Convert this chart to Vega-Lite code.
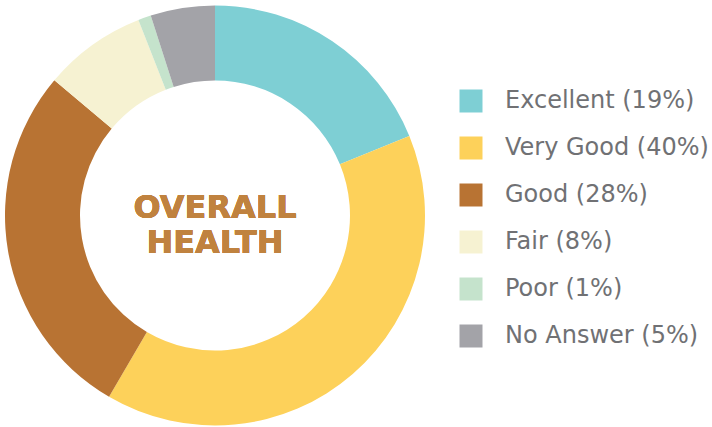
{
  "$schema": "https://vega.github.io/schema/vega-lite/v6.json",
  "width": 430,
  "height": 425,
  "autosize": "none",
  "padding": {"left": 0, "top": 3, "right": 282, "bottom": 0},
  "background": "white",
  "config": {"view": {"stroke": null}},
  "data": {
    "values": [
      {"label": "Excellent (19%)", "share": 19, "rank": 1},
      {"label": "Very Good (40%)", "share": 40, "rank": 2},
      {"label": "Good (28%)", "share": 28, "rank": 3},
      {"label": "Fair (8%)", "share": 8, "rank": 4},
      {"label": "Poor (1%)", "share": 1, "rank": 5},
      {"label": "No Answer (5%)", "share": 5, "rank": 6}
    ]
  },
  "layer": [
    {
      "mark": {"type": "arc", "outerRadius": 210, "innerRadius": 135},
      "encoding": {
        "theta": {"field": "share", "type": "quantitative", "stack": true},
        "order": {"field": "rank", "type": "quantitative", "sort": "ascending"},
        "color": {
          "field": "label",
          "type": "nominal",
          "sort": ["Excellent (19%)", "Very Good (40%)", "Good (28%)", "Fair (8%)", "Poor (1%)", "No Answer (5%)"],
          "scale": {
            "domain": ["Excellent (19%)", "Very Good (40%)", "Good (28%)", "Fair (8%)", "Poor (1%)", "No Answer (5%)"],
            "range": ["#7ecfd4", "#fdd15a", "#b87333", "#f6f2d2", "#c5e3cc", "#a3a3a8"]
          },
          "legend": {
            "title": null,
            "orient": "none",
            "legendX": 459,
            "legendY": 86,
            "symbolType": "square",
            "symbolSize": 529,
            "symbolStrokeWidth": 0,
            "symbolOpacity": 1,
            "labelFont": "DejaVu Sans",
            "labelFontSize": 24,
            "labelColor": "#707174",
            "labelOffset": 22,
            "labelLimit": 400,
            "rowPadding": 23
          }
        }
      }
    },
    {
      "mark": {
        "type": "text",
        "text": ["OVERALL", "HEALTH"],
        "font": "DejaVu Sans",
        "fontWeight": "bold",
        "fontSize": 32,
        "lineHeight": 35.5,
        "align": "center",
        "baseline": "middle",
        "dy": -8,
        "color": "#c0823f"
      },
      "encoding": {}
    }
  ]
}
